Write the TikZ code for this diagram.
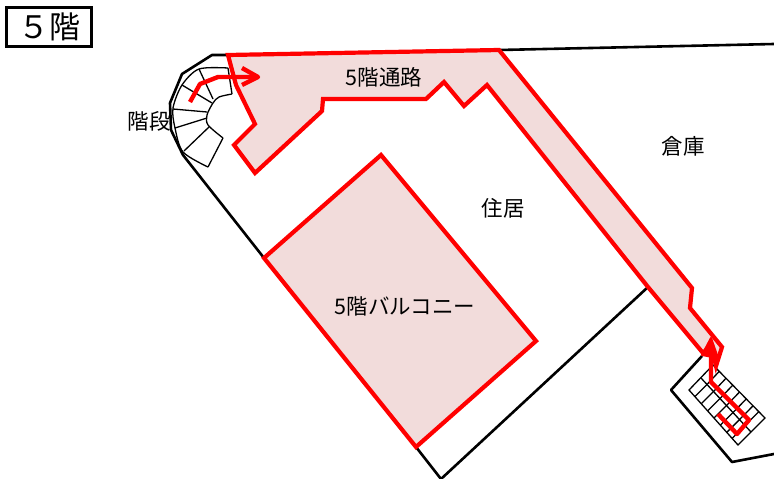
\documentclass[tikz,border=0pt]{standalone}
\usepackage{fontspec}
\usetikzlibrary{calc}
\setmainfont{Noto Sans CJK JP}
\definecolor{roseFill}{HTML}{F2DCDB}
\definecolor{routeRed}{HTML}{FF0000}
\tikzset{
  wall/.style={draw=black,line width=2.6pt,line join=round},
  thin stair/.style={draw=black,line width=1.3pt},
  area/.style={draw=routeRed,fill=roseFill,line width=4.2pt,line join=miter},
  route/.style={draw=routeRed,line width=4.4pt,line join=round},
  label text/.style={inner sep=0pt,font=\fontsize{21.5}{23}\selectfont},
  title box/.style={draw=black,line width=3pt,minimum width=85pt,minimum height=39pt,inner sep=0pt,font=\fontsize{31}{32}\selectfont}
}
\begin{document}
\begin{tikzpicture}[x=1pt,y=-1pt]
\useasboundingbox (0,0) rectangle (774,479);
\fill[white] (0,0) rectangle (774,479);
% walls
\draw[wall] (228,55) -- (212,55) -- (182,74) -- (170,103) -- (171,130) -- (183,155) -- (264,258);
\draw[wall] (416,447) -- (441,479) -- (648,287);
\draw[wall] (499,50) -- (774,44);
\draw[wall] (702,356) -- (671,390) -- (732,462) -- (774,454);
% spiral stair
\draw[thin stair] plot[smooth] coordinates {(228,68) (199,69) (182,85) (173,108) (175,128) (183,152) (208,167)};
\draw[thin stair] plot[smooth] coordinates {(232,94) (219,97) (213,103) (207,115) (208,125) (223,138)};
\draw[thin stair] (228,68) -- (232,94);
\draw[thin stair] (208,167) -- (223,138);
\draw[thin stair] (199,69) -- (213,99);
\draw[thin stair] (182,85) -- (212,103);
\draw[thin stair] (173,109) -- (207,112);
\draw[thin stair] (175,128) -- (207,118);
\draw[thin stair] (184,151) -- (209,127);
% straight stair
\draw[thin stair] (689,390) -- (713,365) -- (765,418) -- (738,445) -- cycle;
\draw[thin stair] (701,378) -- (751,432);
\foreach \t in {0.12,0.25,0.38,0.51,0.64,0.77,0.88}{
  \draw[thin stair] ($(689,390)!\t!(738,445)$) -- ($(701,378)!\t!(751,432)$);
  \draw[thin stair] ($(701,378)!\t!(751,432)$) -- ($(713,365)!\t!(765,418)$);
}
% red areas
\draw[area] (228,55) -- (499,50) -- (692,288) -- (690,308) -- (722,347) -- (716,366) -- (711,345) -- (703,353) -- (648,287) -- (487,85) -- (464,106) -- (444,82) -- (426,99) -- (323,99) -- (322,111) -- (255,173) -- (234,145) -- (255,124) -- (236,85) -- cycle;
\draw[area] (381,155) -- (536,341) -- (416,447) -- (264,258) -- cycle;
% routes
\draw[route] (190,102) -- (200,84) -- (218,77) -- (256,77);
\draw[route] (242,68) -- (258,77) -- (242,85);
\draw[route] (718,414) -- (737,434) -- (749,420) -- (711,382) -- (711,345);
\draw[route,fill=routeRed,line width=2pt] (702,355) -- (711,338) -- (718,358) -- cycle;
% labels
\node[title box] (title) at (49,27) {５階};
\node[label text] (corridor) at (384,77) {5階通路};
\node[label text] (stairs) at (149,121) {階段};
\node[label text] (storage) at (683,146) {倉庫};
\node[label text] (home) at (503,208) {住居};
\node[label text] (balcony) at (405,306) {5階バルコニー};
\end{tikzpicture}
\end{document}
